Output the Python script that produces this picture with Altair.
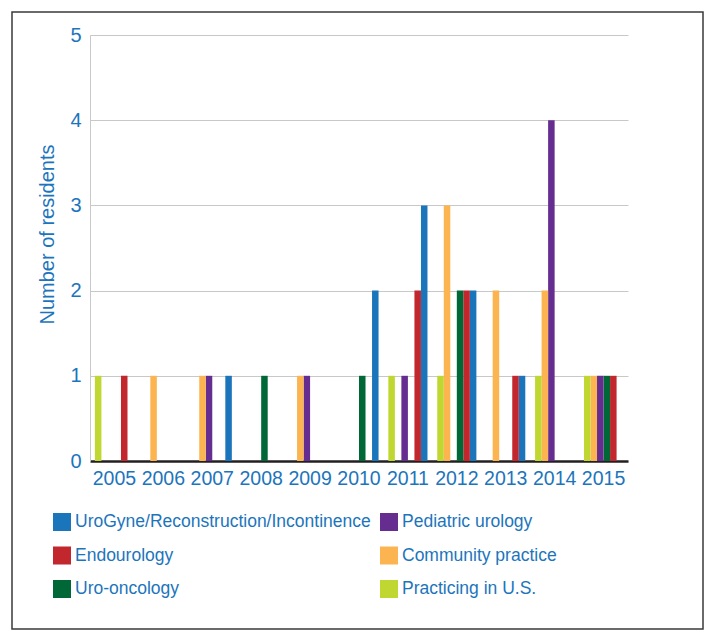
import altair as alt
import pandas as pd

# ---- data ----
years = ["2005", "2006", "2007", "2008", "2009", "2010", "2011", "2012", "2013", "2014", "2015"]

urogyne = [0, 0, 1, 0, 0, 2, 3, 2, 1, 0, 0]
endourology = [1, 0, 0, 0, 0, 0, 2, 2, 1, 0, 1]
uro_oncology = [0, 0, 0, 1, 0, 1, 0, 2, 0, 0, 1]
pediatric = [0, 0, 1, 0, 1, 0, 1, 0, 0, 4, 1]
community = [0, 1, 1, 0, 1, 0, 0, 3, 2, 2, 1]
practicing_us = [1, 0, 0, 0, 0, 0, 1, 1, 0, 1, 1]

names = {
    "urogyne": "UroGyne/Reconstruction/Incontinence",
    "endo": "Endourology",
    "onc": "Uro-oncology",
    "ped": "Pediatric urology",
    "comm": "Community practice",
    "prac": "Practicing in U.S.",
}

series_values = [
    (names["urogyne"], urogyne),
    (names["endo"], endourology),
    (names["onc"], uro_oncology),
    (names["ped"], pediatric),
    (names["comm"], community),
    (names["prac"], practicing_us),
]

# order of bars inside each year group (left to right)
offset_order = [names["prac"], names["comm"], names["ped"], names["onc"], names["endo"], names["urogyne"]]
# legend order (column-major for a 2-column legend)
legend_order = [names["urogyne"], names["endo"], names["onc"], names["ped"], names["comm"], names["prac"]]
legend_colors = ["#1b75bb", "#c1272d", "#006837", "#662d91", "#fbb450", "#bfd730"]

rows = []
for name, vals in series_values:
    for y, v in zip(years, vals):
        if v > 0:
            rows.append({"year": y, "series": name, "count": v})
df = pd.DataFrame(rows)

BLUE = "#1c75bc"
FONT = "Liberation Sans"

bars = alt.Chart(df).mark_bar().encode(
    x=alt.X(
        "year:N",
        sort=years,
        scale=alt.Scale(domain=years, paddingInner=0.2, paddingOuter=0.1),
        axis=alt.Axis(
            title=None, labelAngle=0, labelFontSize=19.5, labelColor=BLUE, labelFont=FONT,
            labelPadding=8, ticks=False, domainColor="#231f20", domainWidth=2.5, grid=False,
        ),
    ),
    xOffset=alt.XOffset("series:N", scale=alt.Scale(domain=offset_order, paddingInner=0, paddingOuter=0)),
    y=alt.Y(
        "count:Q",
        scale=alt.Scale(domain=[0, 5]),
        axis=alt.Axis(
            values=[0, 1, 2, 3, 4, 5], title="Number of residents", titleFont=FONT,
            titleFontSize=20, titleFontWeight="normal", titleColor=BLUE,
            titleAngle=270, titleX=-43, titleY=199, titleAlign="center", titleBaseline="middle",
            labelFontSize=20, labelColor=BLUE, labelFont=FONT, labelPadding=9, ticks=False,
            domainColor="#c8c8c8", domainWidth=1, grid=True, gridColor="#c8c8c8", gridWidth=1,
        ),
    ),
    color=alt.Color(
        "series:N",
        scale=alt.Scale(domain=legend_order, range=legend_colors),
        legend=alt.Legend(
            title=None, orient="none", legendX=-37, legendY=478, columns=2,
            symbolType="square", symbolSize=324, symbolStrokeWidth=0, symbolOpacity=1,
            labelFontSize=17.5, labelColor=BLUE, labelFont=FONT, labelLimit=400,
            labelOffset=4, columnPadding=9, rowPadding=15.5, padding=0,
        ),
    ),
)

frame = alt.Chart(pd.DataFrame({"a": [0]})).mark_rect(
    fill="transparent", stroke="#3a3a3a", strokeWidth=1.5
).encode(
    x=alt.value(-78), x2=alt.value(613), y=alt.value(-23), y2=alt.value(594)
)

chart = alt.layer(bars, frame).properties(
    width=538,
    height=426,
    autosize=alt.AutoSizeParams(type="none"),
    padding={"left": 82, "top": 27, "right": 77, "bottom": 169},
).configure_view(stroke="transparent")

chart.save("out.html", embed_options={"renderer": "svg", "actions": False})
